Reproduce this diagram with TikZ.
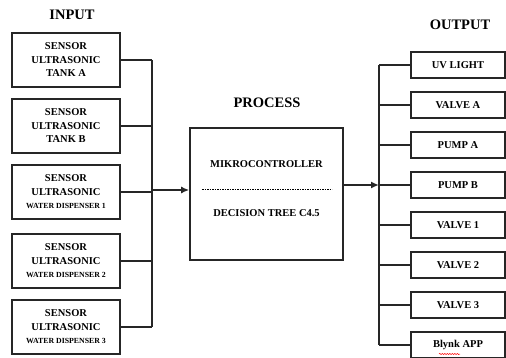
\documentclass[tikz,border=0pt]{standalone}
\usepackage{fontspec}
\setmainfont{Liberation Serif}
\usetikzlibrary{arrows.meta,decorations.pathmorphing}
\begin{document}
\begin{tikzpicture}[x=1pt,y=-1pt,
  box/.style={draw=black!85,line width=1.6pt,minimum width=108pt,minimum height=54pt,inner sep=0pt,align=center,
    font=\bfseries\fontsize{10.5}{13.5}\selectfont},
  obox/.style={draw=black!85,line width=1.6pt,minimum width=94pt,minimum height=26pt,inner sep=0pt,
    font=\bfseries\fontsize{10.5}{12}\selectfont},
  title/.style={font=\bfseries\fontsize{14.5}{16}\selectfont},
  wire/.style={line width=1.7pt,draw=black!85},
  arr/.style={wire,-{Latex[length=8pt,width=7pt]}},
  small/.style={font=\bfseries\fontsize{7.8}{9}\selectfont}]
\useasboundingbox (0,0) rectangle (506,358);
% titles
\node[title] (tin) at (72,15) {INPUT};
\node[title] (tproc) at (267,103) {PROCESS};
\node[title] (tout) at (460,25) {OUTPUT};
% input boxes
\node[box] (i1) at (66,60) {SENSOR\\ULTRASONIC\\TANK A};
\node[box] (i2) at (66,126) {SENSOR\\ULTRASONIC\\TANK B};
\node[box] (i3) at (66,192) {SENSOR\\ULTRASONIC\\{\fontsize{7.8}{9}\selectfont WATER DISPENSER 1}};
\node[box] (i4) at (66,261) {SENSOR\\ULTRASONIC\\{\fontsize{7.8}{9}\selectfont WATER DISPENSER 2}};
\node[box] (i5) at (66,327) {SENSOR\\ULTRASONIC\\{\fontsize{7.8}{9}\selectfont WATER DISPENSER 3}};
% process box
\node[draw=black!85,line width=1.6pt,minimum width=153pt,minimum height=132pt,inner sep=0pt] (proc) at (266.5,194) {};
\node[font=\bfseries\fontsize{10.5}{12}\selectfont] (mk) at (266.5,164) {MIKROCONTROLLER};
\node[font=\bfseries\fontsize{10.5}{12}\selectfont] (dt) at (266.5,213) {DECISION TREE C4.5};
\coordinate (dl) at (202,189);
\coordinate (dr) at (332,189);
\draw[line width=0.5pt,dash pattern=on 1.6pt off 0.9pt] (dl) -- (dr);
% output boxes
\node[obox] (o1) at (458,65) {UV LIGHT};
\node[obox] (o2) at (458,105) {VALVE A};
\node[obox] (o3) at (458,145) {PUMP A};
\node[obox] (o4) at (458,185) {PUMP B};
\node[obox] (o5) at (458,225) {VALVE 1};
\node[obox] (o6) at (458,265) {VALVE 2};
\node[obox] (o7) at (458,305) {VALVE 3};
\node[obox] (o8) at (458,345) {Blynk APP};
% input wiring
\coordinate (bus1) at (152,0);
\foreach \n in {i1,i2,i3,i4,i5}{\draw[wire] (\n.east) -- (\n.east -| bus1);}
\draw[wire] (i1.east -| bus1) -- (i5.east -| bus1);
\coordinate (jin) at (152,190);
\draw[arr] (jin) -- (jin -| proc.west);
% output wiring
\coordinate (bus2) at (379,0);
\foreach \n in {o1,o2,o3,o4,o5,o6,o7,o8}{\draw[wire] (\n.west) -- (\n.west -| bus2);}
\draw[wire] (o1.west -| bus2) -- (o8.west -| bus2);
\coordinate (jout) at (343,185);
\draw[arr] (jout) -- (jout -| bus2);
% spell-check squiggle under Blynk
\coordinate (sq1) at (439,354);
\coordinate (sq2) at (460,354);
\draw[red,line width=0.5pt,decorate,decoration={snake,amplitude=0.6pt,segment length=2.5pt}] (sq1) -- (sq2);
\end{tikzpicture}
\end{document}
